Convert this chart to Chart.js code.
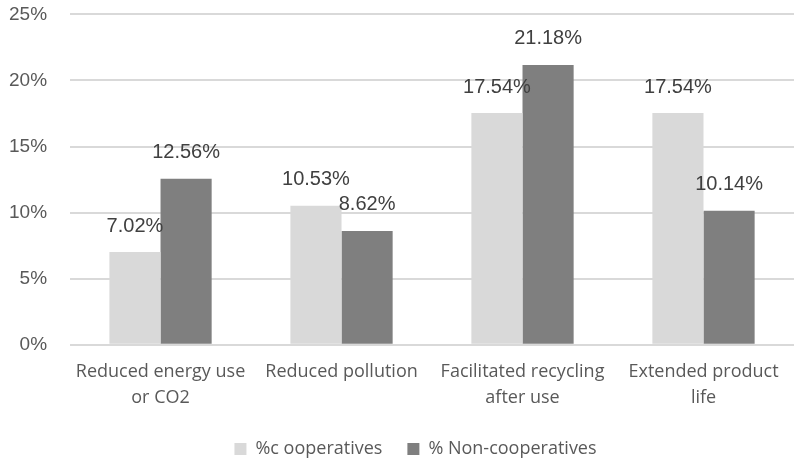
<!DOCTYPE html>
<html>
<head>
<meta charset="utf-8">
<script src="https://cdn.jsdelivr.net/npm/chart.js@4"></script>
<style>
  html, body { margin: 0; padding: 0; background: #ffffff; }
  #wrap { width: 794px; height: 462px; position: relative; }
</style>
</head>
<body>
<div id="wrap"><canvas id="c"></canvas></div>
<script>
// Share of respondents citing each environmental benefit
const categories = [
  ["Reduced energy use", "or CO2"],
  "Reduced pollution",
  ["Facilitated recycling", "after use"],
  ["Extended product", "life"]
];
const cooperatives = [7.02, 10.53, 17.54, 17.54];
const nonCooperatives = [12.56, 8.62, 21.18, 10.14];
const seriesNames = ["%c ooperatives", "% Non-cooperatives"];
const yTicks = [0, 5, 10, 15, 20, 25];

// Writes each bar's value above it
const valueLabels = {
  id: "valueLabels",
  afterDatasetsDraw(chart) {
    const ctx = chart.ctx;
    ctx.save();
    ctx.font = "20px 'Liberation Sans', Arial, sans-serif";
    ctx.fillStyle = "#404040";
    ctx.textAlign = "center";
    ctx.textBaseline = "middle";
    chart.data.datasets.forEach((ds, i) => {
      const meta = chart.getDatasetMeta(i);
      meta.data.forEach((bar, j) => {
        ctx.fillText(ds.data[j].toFixed(2) + "%", bar.x, bar.y - 26);
      });
    });
    ctx.restore();
  }
};

// Centres the legend under the plot area rather than the whole canvas
const legendOffset = {
  id: "legendOffset",
  afterLayout(chart) {
    if (chart.legend) {
      chart.legend.left += 14;
      chart.legend.right += 14;
    }
  }
};

new Chart(document.getElementById("c"), {
  type: "bar",
  data: {
    labels: categories,
    datasets: [
      { label: seriesNames[0], data: cooperatives, backgroundColor: "#d9d9d9" },
      { label: seriesNames[1], data: nonCooperatives, backgroundColor: "#7f7f7f" }
    ]
  },
  options: {
    responsive: true,
    maintainAspectRatio: false,
    animation: false,
    layout: { padding: { top: 0, right: -3, left: 6, bottom: -6 } },
    datasets: { bar: { categoryPercentage: 0.565, barPercentage: 1.0 } },
    scales: {
      x: {
        grid: { display: false },
        border: { display: false },
        afterFit(scale) { scale.height -= 2; },
        ticks: {
          color: "#595959",
          font: { family: "'Open Sans', sans-serif", size: 18, lineHeight: 1.45 },
          padding: 6,
          maxRotation: 0,
          autoSkip: false
        }
      },
      y: {
        min: 0,
        max: 25,
        afterBuildTicks(axis) { axis.ticks = yTicks.map(v => ({ value: v })); },
        grid: {
          color: "#d9d9d9",
          lineWidth: 2,
          drawTicks: true,
          tickLength: 20,
          tickColor: "rgba(0,0,0,0)"
        },
        border: { display: false },
        ticks: {
          color: "#595959",
          font: { family: "'Liberation Sans', Arial, sans-serif", size: 19 },
          padding: 3,
          callback: v => v + "%"
        }
      }
    },
    plugins: {
      legend: {
        position: "bottom",
        labels: {
          color: "#595959",
          font: { family: "'Open Sans', sans-serif", size: 18 },
          boxWidth: 12,
          boxHeight: 12,
          padding: 25
        }
      },
      tooltip: { enabled: false }
    }
  },
  plugins: [valueLabels, legendOffset]
});
</script>
</body>
</html>
